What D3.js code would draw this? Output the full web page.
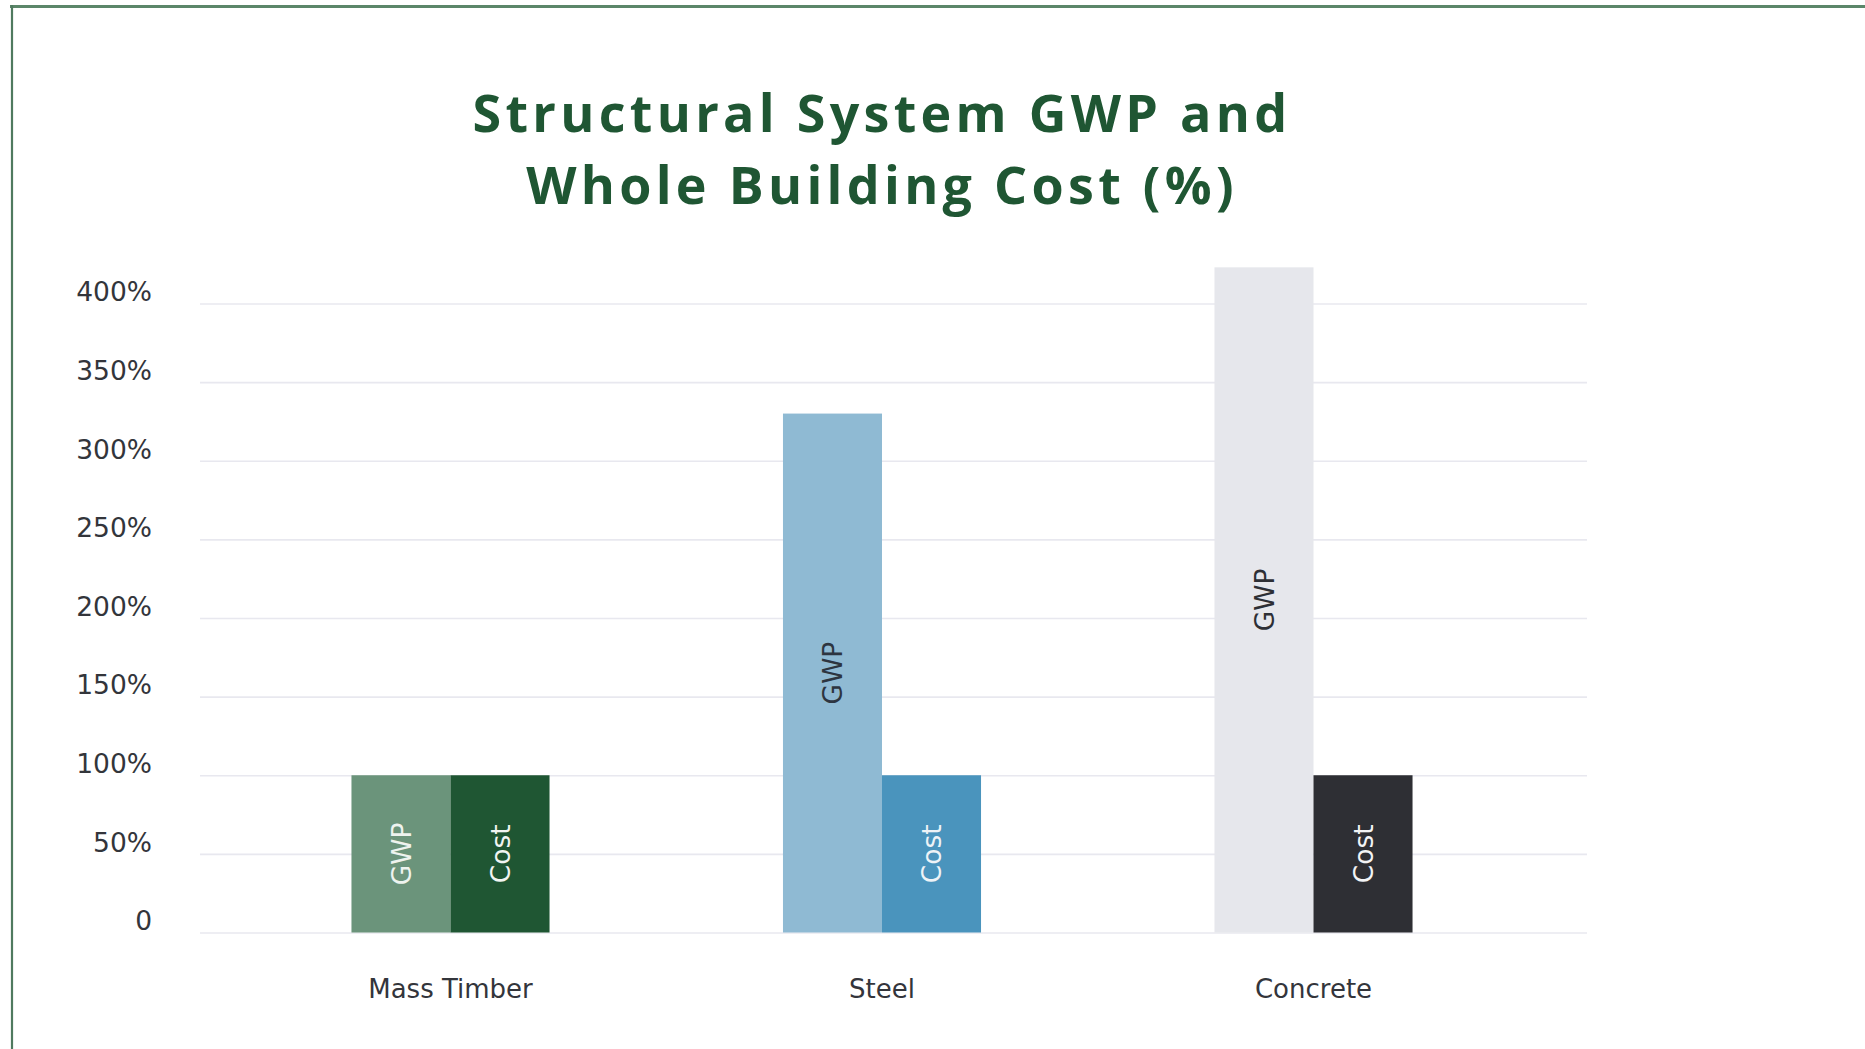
<!DOCTYPE html>
<html>
<head>
<meta charset="utf-8">
<script src="https://cdn.jsdelivr.net/npm/d3@7"></script>
<style>
  html, body { margin: 0; padding: 0; background: #ffffff; }
  svg { display: block; }
</style>
</head>
<body>
<script>
// ---- data ----
const titleLines = ["Structural System GWP and", "Whole Building Cost (%)"];
const categories = ["Mass Timber", "Steel", "Concrete"];
const seriesNames = ["GWP", "Cost"];
const gwpValues = [100, 330, 423];
const costValues = [100, 100, 100];
const yTickValues = [0, 50, 100, 150, 200, 250, 300, 350, 400];
const yTickLabels = ["0", "50%", "100%", "150%", "200%", "250%", "300%", "350%", "400%"];
const barColors = {
  "Mass Timber": { GWP: "#6b947b", Cost: "#1f5633" },
  "Steel":       { GWP: "#8fbad3", Cost: "#4a94bd" },
  "Concrete":    { GWP: "#e6e7ec", Cost: "#2e2f34" }
};
const labelColors = {
  "Mass Timber": { GWP: "#eef3ef", Cost: "#f2f5f2" },
  "Steel":       { GWP: "#2d3540", Cost: "#eef3f7" },
  "Concrete":    { GWP: "#2d2f35", Cost: "#f3f4f6" }
};

const W = 1865, H = 1049;
const svg = d3.select("body").append("svg").attr("width", W).attr("height", H);

// frame lines (top and left)
svg.append("line").attr("x1", 10).attr("x2", W).attr("y1", 6.5).attr("y2", 6.5)
  .attr("stroke", "#5b8669").attr("stroke-width", 3);
svg.append("line").attr("x1", 12).attr("x2", 12).attr("y1", 5).attr("y2", H)
  .attr("stroke", "#4f7a5f").attr("stroke-width", 2.2);

// title
svg.append("text")
  .attr("x", 880).attr("y", 132)
  .attr("text-anchor", "middle")
  .attr("font-family", "'Open Sans', sans-serif")
  .attr("font-weight", 700)
  .attr("font-size", 52)
  .attr("letter-spacing", "4.3px")
  .attr("fill", "#1f5633")
  .selectAll("tspan").data(titleLines).join("tspan")
  .attr("x", 882).attr("dy", (d, i) => i === 0 ? 0 : 71.5)
  .text(d => d);

// scales
const gridX0 = 200, gridX1 = 1587;
const y = d3.scaleLinear().domain([0, 400]).range([932.5, 303.5]);
const x = d3.scaleBand().domain(categories).range([234.75, 1529.25])
  .paddingInner(0.541).paddingOuter(0.2705).align(0.5);
const xs = d3.scaleBand().domain(seriesNames).range([0, x.bandwidth()]);

// y axis with gridlines
const yAxis = d3.axisLeft(y)
  .tickValues(yTickValues)
  .tickFormat((d, i) => yTickLabels[i])
  .tickSizeInner(-(gridX1 - gridX0))
  .tickSizeOuter(0)
  .tickPadding(48);

const gy = svg.append("g").attr("transform", `translate(${gridX0},0)`).call(yAxis);
gy.select(".domain").remove();
gy.selectAll(".tick line").attr("stroke", "#e8e8ef").attr("stroke-width", 1.6);
gy.selectAll(".tick text")
  .attr("font-family", "'DejaVu Sans', sans-serif")
  .attr("font-size", 26.5)
  .attr("fill", "#33353b")
  .attr("dy", "0.35em")
  .attr("transform", "translate(0,-12)");

// bars
const rows = [];
categories.forEach((c, i) => {
  rows.push({ cat: c, series: "GWP", value: gwpValues[i] });
  rows.push({ cat: c, series: "Cost", value: costValues[i] });
});

const bars = svg.append("g");
bars.selectAll("rect").data(rows).join("rect")
  .attr("x", d => x(d.cat) + xs(d.series))
  .attr("y", d => y(d.value))
  .attr("width", xs.bandwidth())
  .attr("height", d => y(0) - y(d.value))
  .attr("fill", d => barColors[d.cat][d.series]);

bars.selectAll("text").data(rows).join("text")
  .attr("transform", d => {
    const cx = x(d.cat) + xs(d.series) + xs.bandwidth() / 2;
    const cy = (y(d.value) + y(0)) / 2;
    return `translate(${cx},${cy}) rotate(-90)`;
  })
  .attr("text-anchor", "middle")
  .attr("dy", "0.36em")
  .attr("font-family", "'DejaVu Sans', sans-serif")
  .attr("font-size", 26.5)
  .attr("fill", d => labelColors[d.cat][d.series])
  .text(d => d.series);

// x axis labels
const xAxis = d3.axisBottom(x).tickSize(0).tickPadding(0);
const gx = svg.append("g").attr("transform", `translate(0,${y(0)})`).call(xAxis);
gx.select(".domain").remove();
gx.selectAll(".tick text")
  .attr("font-family", "'DejaVu Sans', sans-serif")
  .attr("font-size", 26)
  .attr("fill", "#33353b")
  .attr("y", 56)
  .attr("dy", "0.35em");
</script>
</body>
</html>
